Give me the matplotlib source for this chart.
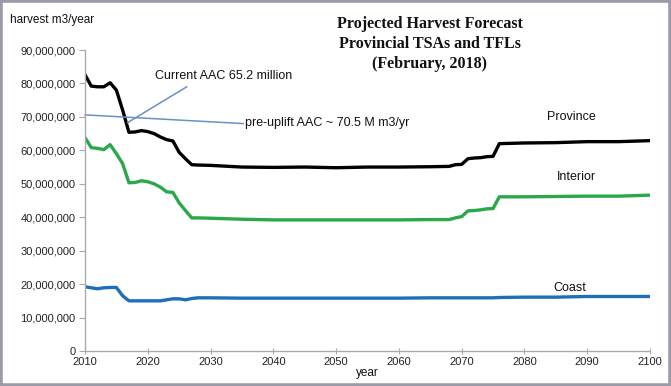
import matplotlib
matplotlib.use("Agg")
import matplotlib.pyplot as plt
from matplotlib.patches import Rectangle
from matplotlib.ticker import FuncFormatter

years = [2010, 2011, 2012, 2013, 2014, 2015, 2016, 2017, 2018, 2019, 2020, 2021, 2022,
         2023, 2024, 2025, 2026, 2027, 2028, 2030, 2035, 2040, 2045, 2050, 2055, 2060,
         2065, 2068, 2069, 2070, 2071, 2072, 2073, 2074, 2075, 2076, 2080, 2085, 2090,
         2095, 2100]

province = [82.6, 79.2, 79.0, 79.0, 80.2, 78.0, 72.0, 65.4, 65.5, 65.9, 65.6, 65.0, 64.0,
            63.2, 62.8, 59.4, 57.5, 55.7, 55.6, 55.5, 55.0, 54.9, 55.0, 54.8, 55.0, 55.0,
            55.1, 55.2, 55.7, 55.8, 57.5, 57.7, 57.8, 58.1, 58.2, 62.0, 62.2, 62.3, 62.6,
            62.6, 62.9]

interior = [63.8, 60.8, 60.6, 60.2, 61.7, 59.0, 56.0, 50.3, 50.4, 50.9, 50.6, 50.0, 49.0,
            47.6, 47.4, 44.3, 42.0, 39.8, 39.8, 39.7, 39.4, 39.2, 39.2, 39.2, 39.2, 39.2,
            39.3, 39.3, 39.8, 40.2, 41.9, 42.0, 42.2, 42.5, 42.6, 46.1, 46.1, 46.2, 46.3,
            46.3, 46.6]

coast = [19.2, 18.9, 18.6, 18.9, 19.0, 19.0, 16.5, 15.0, 15.0, 15.0, 15.0, 15.0, 15.0,
         15.3, 15.6, 15.6, 15.3, 15.7, 15.9, 15.9, 15.8, 15.8, 15.8, 15.8, 15.8, 15.8,
         15.9, 15.9, 15.9, 15.9, 15.9, 15.9, 15.9, 15.9, 15.9, 16.0, 16.1, 16.1, 16.3,
         16.3, 16.3]

x_ticks = list(range(2010, 2101, 10))
y_ticks = [v * 1e6 for v in range(0, 91, 10)]

title_text = "Projected Harvest Forecast\nProvincial TSAs and TFLs\n(February, 2018)"
series_labels = ["Province", "Interior", "Coast"]
series_colors = ["#000000", "#2aa84a", "#1c6fb8"]

plt.rcParams['font.family'] = ['Liberation Sans', 'DejaVu Sans']

fig = plt.figure(figsize=(6.71, 3.86), dpi=100)
ax = fig.add_axes([85/671, 1 - 351/386, (650-85)/671, (351-50)/386])

for vals, c in zip([province, interior, coast], series_colors):
    ax.plot(years, [v * 1e6 for v in vals], color=c, lw=2.4, solid_joinstyle='round')

ax.set_xlim(2010, 2100)
ax.set_ylim(0, 90e6)
ax.set_xticks(x_ticks)
ax.set_yticks(y_ticks)
ax.yaxis.set_major_formatter(FuncFormatter(lambda v, p: f"{int(v):,}"))
ax.tick_params(axis='both', labelsize=8, colors='#222222', length=4, width=0.8)
ax.tick_params(axis='x', direction='inout', color='#aaaaaa', pad=2)
ax.tick_params(axis='y', direction='out', color='#aaaaaa', pad=3)
for s in ['top', 'right']:
    ax.spines[s].set_visible(False)
for s in ['left', 'bottom']:
    ax.spines[s].set_color('#aaaaaa')
    ax.spines[s].set_linewidth(1.0)

# annotations
ann_color = '#6a8fc8'
ax.plot([2010, 2035.2], [70.6e6, 68.0e6], color=ann_color, lw=1.1, clip_on=False)
ax.plot([2016.8, 2026.2], [68.3e6, 79.0e6], color=ann_color, lw=1.1, clip_on=False)
ax.text(2021.1, 82.3e6, "Current AAC 65.2 million", fontsize=9, va='center', ha='left', color='#111111')
ax.text(2035.5, 68.2e6, "pre-uplift AAC ~ 70.5 M m3/yr", fontsize=9, va='center', ha='left', color='#111111')

ax.text(2087.5, 69.9e6, series_labels[0], fontsize=9, ha='center', va='center', color='#111111')
ax.text(2088.3, 52.1e6, series_labels[1], fontsize=9, ha='center', va='center', color='#111111')
ax.text(2087.2, 18.9e6, series_labels[2], fontsize=9, ha='center', va='center', color='#111111')

ax.set_xlabel("year", fontsize=8.5, labelpad=0, color='#111111')

fig.text(10/671, 1 - 20/386, "harvest m3/year", fontsize=8.5, ha='left', va='center', color='#111111')
fig.text(430/671, 1 - 44/386, title_text, fontsize=11.5, fontweight='bold',
         family=['Liberation Serif', 'DejaVu Serif'], ha='center', va='center',
         linespacing=1.35, color='#111111')

fig.patches.append(Rectangle((0, 0), 1, 1, transform=fig.transFigure, fill=False,
                             edgecolor='#9a9aa6', linewidth=4))

fig.savefig("out.png", dpi=100)
